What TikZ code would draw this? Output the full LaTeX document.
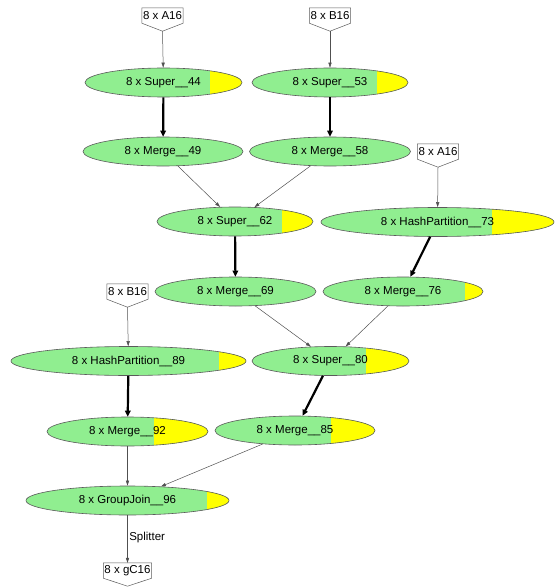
\documentclass[tikz,border=0pt]{standalone}
\usepackage{fontspec}
\setmainfont{Liberation Sans}
\usetikzlibrary{shapes.geometric,calc,arrows.meta}

\definecolor{opgreen}{RGB}{144,238,144}
\definecolor{opyellow}{RGB}{255,255,0}
\definecolor{rimgray}{RGB}{90,90,90}
\definecolor{thingray}{RGB}{80,80,80}

\tikzset{
  opnode/.style={ellipse, draw=rimgray, line width=0.6pt, fill=opgreen,
    minimum height=29pt, inner sep=0pt, font=\fontsize{11.5}{13}\selectfont},
  busy/.style={path picture={
    \fill[opyellow] ($(path picture bounding box.south west)!#1!(path picture bounding box.south east)$)
      rectangle (path picture bounding box.north east);}},
  datanode/.style={rectangle, draw=none, inner xsep=1pt, inner ysep=0pt,
    minimum height=15pt, font=\fontsize{11.5}{13}\selectfont},
  houserim/.style={draw=rimgray, line width=0.5pt},
  thinedge/.style={draw=thingray, line width=0.5pt,
    -{Triangle[length=5pt,width=3.2pt]}},
  thickedge/.style={draw=black, line width=2.2pt,
    -{Triangle[length=6pt,width=5.5pt]}},
  edgelabel/.style={font=\fontsize{11.5}{13}\selectfont, anchor=west, inner sep=0pt}
}

\newcommand{\datahouse}[4]{%
  % #1 name, #2 x, #3 y (centre of the box), #4 text
  \node[datanode] (#1) at (#2,#3) {#4};
  \coordinate (#1tip) at ($(#1.south)+(0,8)$);
  \draw[houserim] (#1.north west) -- (#1.north east) -- (#1.south east)
    -- (#1tip) -- (#1.south west) -- cycle;
}

\begin{document}
\begin{tikzpicture}[x=1pt,y=-1pt]
\useasboundingbox (0,0) rectangle (554,588);

% data sources and sink
\datahouse{a16}{162.5}{15.5}{8 x A16}
\datahouse{b16}{330}{15.5}{8 x B16}
\datahouse{a16r}{438}{151.5}{8 x A16}
\datahouse{b16l}{127.5}{291.5}{8 x B16}
\datahouse{gc16}{127.5}{570.5}{8 x gC16}

% operators
\node[opnode, busy=0.796, minimum width=157pt] (s44) at (163.5,82.5) {8 x Super\_\_44};
\node[opnode, busy=0.80,  minimum width=156pt] (s53) at (330,82.5) {8 x Super\_\_53};
\node[opnode, minimum width=160pt] (m49) at (163,151.5) {8 x Merge\_\_49};
\node[opnode, minimum width=161pt] (m58) at (330,151.5) {8 x Merge\_\_58};
\node[opnode, busy=0.80,  minimum width=156pt] (s62) at (235,221.5) {8 x Super\_\_62};
\node[opnode, busy=0.734, minimum width=233pt] (h73) at (437.5,222) {8 x HashPartition\_\_73};
\node[opnode, minimum width=161pt] (m69) at (235.5,291.5) {8 x Merge\_\_69};
\node[opnode, busy=0.8875, minimum width=160pt] (m76) at (403,291.5) {8 x Merge\_\_76};
\node[opnode, busy=0.885, minimum width=235pt] (h89) at (128.5,361) {8 x HashPartition\_\_89};
\node[opnode, busy=0.726, minimum width=157pt] (s80) at (330.5,361) {8 x Super\_\_80};
\node[opnode, busy=0.725, minimum width=160pt] (m85) at (295,430.5) {8 x Merge\_\_85};
\node[opnode, busy=0.665, minimum width=161pt] (m92) at (127.5,431.5) {8 x Merge\_\_92};
\node[opnode, busy=0.89,  minimum width=203pt] (g96) at (127.5,500.5) {8 x GroupJoin\_\_96};

% connectors
\draw[thinedge] (a16tip) -- (s44);
\draw[thinedge] (b16tip) -- (s53);
\draw[thickedge] (s44) -- (m49);
\draw[thickedge] (s53) -- (m58);
\draw[thinedge] (m49) -- (s62);
\draw[thinedge] (m58) -- (s62);
\draw[thinedge] (a16rtip) -- (h73);
\draw[thickedge] (s62) -- (m69);
\draw[thickedge] (h73) -- (m76);
\draw[thinedge] (b16ltip) -- (h89);
\draw[thinedge] (m69) -- (s80);
\draw[thinedge] (m76) -- (s80);
\draw[thickedge] (h89) -- (m92);
\draw[thickedge] (s80) -- (m85);
\draw[thinedge] (m92) -- (g96);
\draw[thinedge] (m85) -- (g96);
\draw[thinedge] (g96) -- (gc16) node[midway, edgelabel, xshift=1.5pt, yshift=1.5pt] (splitlbl) {Splitter};

\end{tikzpicture}
\end{document}
